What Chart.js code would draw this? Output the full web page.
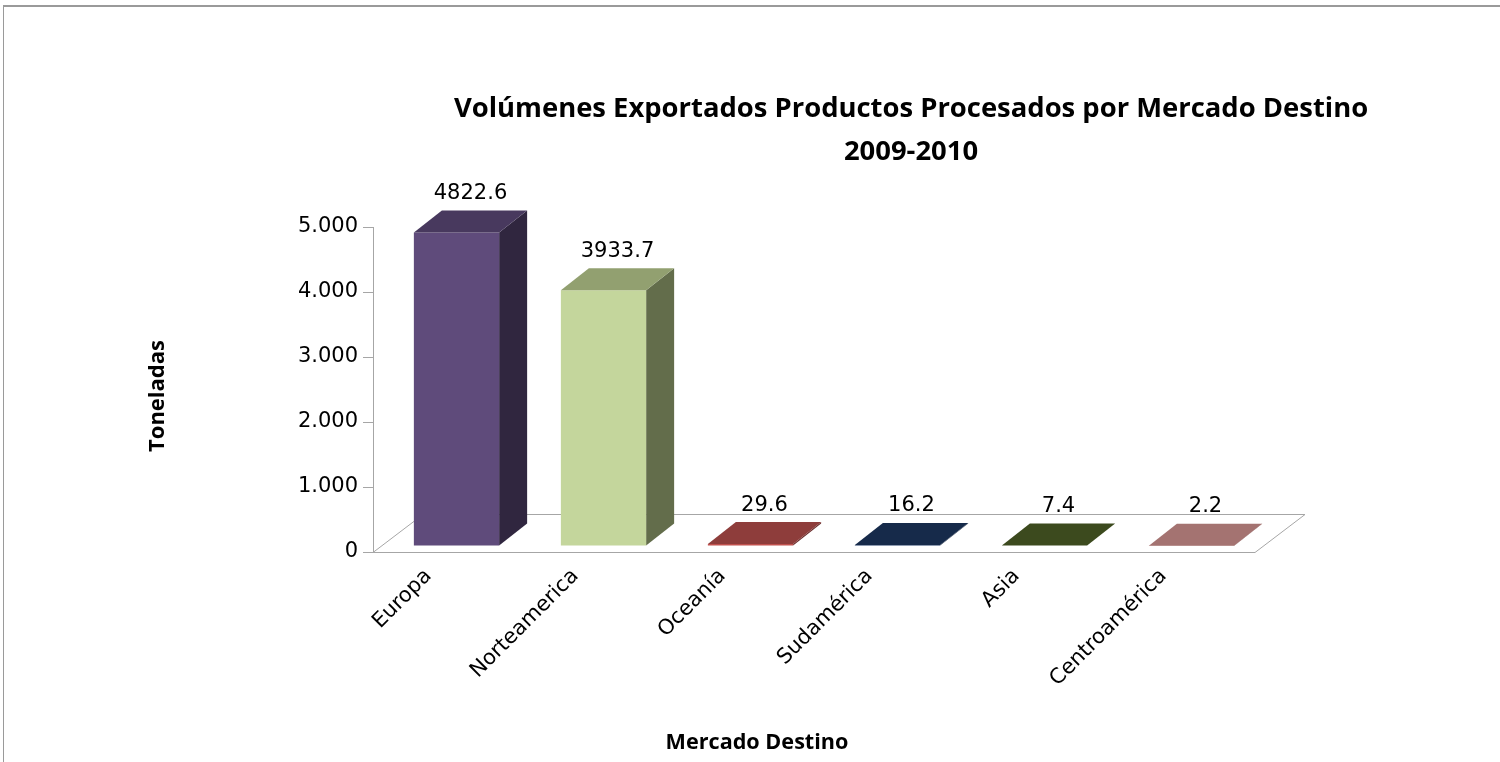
<!DOCTYPE html>
<html>
<head>
<meta charset="utf-8">
<script src="https://cdn.jsdelivr.net/npm/chart.js@4"></script>
<style>
  html, body { margin: 0; padding: 0; background: #fff; }
  #wrap { position: relative; width: 1500px; height: 762px; }
  #frame { position: absolute; left: 3px; top: 5px; right: -10px; bottom: -10px;
           border-top: 2px solid #9a9a9a; border-left: 1px solid #9a9a9a; }
  #chart { position: absolute; left: 0; top: 0; }
</style>
</head>
<body>
<div id="wrap">
  <div id="frame"></div>
  <canvas id="chart" width="1500" height="762"></canvas>
</div>
<script>
'use strict';

var mercados = ['Europa', 'Norteamerica', 'Oceanía', 'Sudamérica', 'Asia', 'Centroamérica'];
var toneladas = [4822.6, 3933.7, 29.6, 16.2, 7.4, 2.2];
var etiquetas = ['4822.6', '3933.7', '29.6', '16.2', '7.4', '2.2'];
var ticksY = [0, 1000, 2000, 3000, 4000, 5000];

var titulo = ['Volúmenes Exportados Productos Procesados por Mercado Destino', '2009-2010'];
var tituloX = 'Mercado Destino';
var tituloY = 'Toneladas';

// front / top / side shades for each bar
var frente = ['#5f4b7b', '#c4d69c', '#c0504d', '#1f3864', '#4f6228', '#c0908e'];
var tapa   = ['#48395e', '#92a070', '#8e3d3b', '#162a4a', '#3c4a1e', '#a47371'];
var lado   = ['#30263f', '#636d4b', '#6b2d2c', '#0f1e35', '#2a3415', '#7b5655'];

var FONT = '"DejaVu Sans", sans-serif';
var BOLD = '"Open Sans", "Noto Sans", sans-serif';

(function() {
  // 3d look: bar offset inside floor, bar depth, floor depth
  var off = { x: 10, y: 6 };
  var prof = { x: 28, y: 22 };
  var piso = { x: 50, y: 38 };

  function fitSize(ctx, text, target) {
    ctx.font = 'bold 20px ' + BOLD;
    return 20 * target / ctx.measureText(text).width;
  }

  function poly(ctx, pts, color) {
    ctx.beginPath();
    ctx.moveTo(pts[0][0], pts[0][1]);
    for (var i = 1; i < pts.length; i++) ctx.lineTo(pts[i][0], pts[i][1]);
    ctx.closePath();
    ctx.fillStyle = color;
    ctx.fill();
  }

  var bars3d = {
    id: 'bars3d',
    beforeDatasetsDraw: function(chart) {
      var ctx = chart.ctx, a = chart.chartArea;
      ctx.save();
      ctx.strokeStyle = '#a6a6a6';
      ctx.lineWidth = 1;
      ctx.beginPath();
      ctx.moveTo(a.left, a.bottom + 0.5);
      ctx.lineTo(a.right, a.bottom + 0.5);
      ctx.lineTo(a.right + piso.x, a.bottom - piso.y + 0.5);
      ctx.lineTo(a.left + piso.x, a.bottom - piso.y + 0.5);
      ctx.closePath();
      ctx.stroke();
      ctx.restore();
    },
    afterDatasetsDraw: function(chart) {
      var ctx = chart.ctx;
      var meta = chart.getDatasetMeta(0);
      ctx.save();
      meta.data.forEach(function(bar, i) {
        var p = bar.getProps(['x', 'y', 'base', 'width'], true);
        var l = p.x - p.width / 2 + off.x, r = p.x + p.width / 2 + off.x;
        var t = p.y - off.y, b = p.base - off.y;
        poly(ctx, [[r, t], [r + prof.x, t - prof.y], [r + prof.x, b - prof.y], [r, b]], lado[i]);
        poly(ctx, [[l, t], [r, t], [r, b], [l, b]], frente[i]);
        poly(ctx, [[l, t], [l + prof.x, t - prof.y], [r + prof.x, t - prof.y], [r, t]], tapa[i]);

        ctx.fillStyle = '#000';
        ctx.font = '21px ' + FONT;
        ctx.textAlign = 'center';
        ctx.textBaseline = 'middle';
        ctx.fillText(etiquetas[i], p.x + off.x + 14, t - prof.y - 17);
      });
      ctx.restore();
    },
    afterDraw: function(chart) {
      var ctx = chart.ctx;
      ctx.save();
      ctx.fillStyle = '#000';
      ctx.textAlign = 'center';
      ctx.textBaseline = 'middle';
      var s = fitSize(ctx, titulo[0], 915);
      ctx.font = 'bold ' + s + 'px ' + BOLD;
      ctx.fillText(titulo[0], 911, 109);
      ctx.fillText(titulo[1], 911, 152);

      s = fitSize(ctx, tituloX, 183);
      ctx.font = 'bold ' + s + 'px ' + BOLD;
      ctx.fillText(tituloX, 757, 743);

      s = fitSize(ctx, tituloY, 112);
      ctx.font = 'bold ' + s + 'px ' + BOLD;
      ctx.translate(158, 396);
      ctx.rotate(-Math.PI / 2);
      ctx.fillText(tituloY, 0, 0);
      ctx.restore();
    }
  };

  function miles(v) {
    return String(v).replace(/\B(?=(\d{3})+(?!\d))/g, '.');
  }

  new Chart(document.getElementById('chart'), {
    type: 'bar',
    data: {
      labels: mercados,
      datasets: [{
        data: toneladas,
        backgroundColor: 'rgba(0,0,0,0)',
        borderWidth: 0,
        barPercentage: 0.58,
        categoryPercentage: 1
      }]
    },
    options: {
      responsive: false,
      animation: false,
      events: [],
      layout: { padding: { left: 293, top: 227, right: 245, bottom: 0 } },
      plugins: {
        legend: { display: false },
        tooltip: { enabled: false },
        title: { display: false }
      },
      scales: {
        x: {
          grid: { display: false },
          border: { display: false },
          afterFit: function(scale) { scale.height = 210; },
          ticks: {
            color: '#000',
            font: { family: FONT, size: 21 },
            minRotation: 45,
            maxRotation: 45,
            labelOffset: -18,
            padding: 4
          }
        },
        y: {
          min: 0,
          max: 5000,
          afterFit: function(scale) { scale.width = 80; },
          afterBuildTicks: function(scale) {
            scale.ticks = ticksY.map(function(v) { return { value: v }; });
          },
          grid: { drawOnChartArea: false, color: '#a6a6a6', tickLength: 10 },
          border: { display: true, color: '#a6a6a6' },
          ticks: {
            color: '#000',
            padding: 5,
            font: { family: FONT, size: 21 },
            callback: function(v) { return miles(v); }
          }
        }
      }
    },
    plugins: [bars3d]
  });
})();
</script>
</body>
</html>
